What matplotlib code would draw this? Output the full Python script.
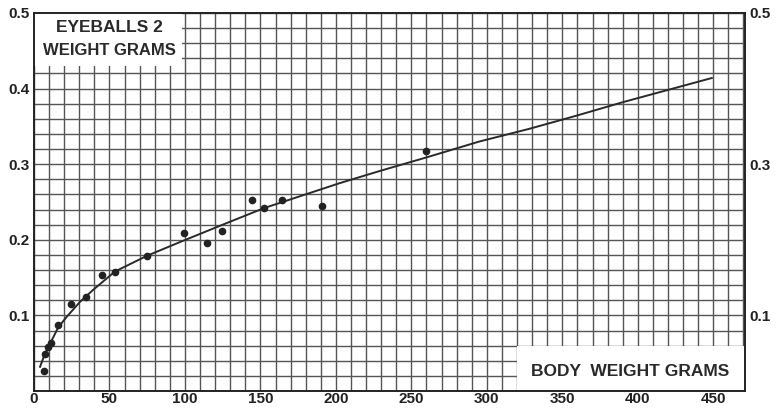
import matplotlib
matplotlib.use("Agg")
import matplotlib.pyplot as plt
from matplotlib.patches import Rectangle
import numpy as np

# Observed data points (body weight g, eyeball weight g)
body_weight = [6.8, 7.3, 9.5, 11, 16, 24.5, 34.4, 44.8, 53.6, 75, 99.3, 114.4,
               124.3, 144.2, 152.5, 164, 191, 260]
eye_weight = [0.026, 0.049, 0.058, 0.064, 0.087, 0.115, 0.124, 0.154, 0.158,
              0.179, 0.209, 0.196, 0.211, 0.252, 0.242, 0.252, 0.245, 0.317]

# Fitted curve
curve_x = [4, 7, 10, 16, 21.6, 30.5, 39.3, 53.6, 75, 96.7, 125, 152.5,
           202.6, 229, 260, 295, 328.5, 359, 390, 449]
curve_y = [0.032, 0.048, 0.060, 0.084, 0.098, 0.118, 0.134, 0.158, 0.179,
           0.197, 0.220, 0.242, 0.275, 0.291, 0.309, 0.330, 0.347, 0.364,
           0.382, 0.414]

x_ticks = [0, 50, 100, 150, 200, 250, 300, 350, 400, 450]
y_ticks_left = [0.1, 0.2, 0.3, 0.4, 0.5]
y_ticks_right = [0.1, 0.3, 0.5]

plt.rcParams['font.family'] = ['Liberation Sans', 'DejaVu Sans']

fig = plt.figure(figsize=(7.76, 4.09), dpi=100)
ax = fig.add_axes([34/776, 18/409, (745-34)/776, (391-13)/409])
ax.set_xlim(0, 471)
ax.set_ylim(0, 0.5)

gc = '#555555'
ax.set_xticks(x_ticks)
ax.set_xticks(np.arange(0, 471, 10), minor=True)
ax.set_yticks(y_ticks_left)
ax.set_yticks(np.arange(0, 0.501, 0.02), minor=True)
ax.grid(True, which='both', color=gc, linewidth=1.0)
ax.set_axisbelow(True)
ax.tick_params(which='both', length=0)
ax.tick_params(axis='x', pad=0.5, labelsize=11, labelcolor='#222')
ax.tick_params(axis='y', pad=3, labelsize=11, labelcolor='#222')
ax.set_yticklabels([f"{v:.1f}" for v in y_ticks_left])
for lab in ax.get_xticklabels() + ax.get_yticklabels():
    lab.set_fontweight('bold')
for s in ax.spines.values():
    s.set_color('#222')
    s.set_linewidth(1.4)

sec = ax.secondary_yaxis('right')
sec.set_yticks(y_ticks_right)
sec.set_yticklabels([f"{v:.1f}" for v in y_ticks_right], fontweight='bold')
sec.tick_params(length=0, pad=3, labelsize=11, labelcolor='#222')
sec.spines['right'].set_visible(False)

# label boxes
ax.add_patch(Rectangle((0, 0.43), 98, 0.07, facecolor='white', edgecolor='none', zorder=1.5))
ax.add_patch(Rectangle((320, 0.0), 151, 0.06, facecolor='white', edgecolor='none', zorder=1.5))
ax.text(50, 0.481, "EYEBALLS 2", ha='center', va='center', fontsize=12.5,
        fontweight='bold', color='#2a2a2a', zorder=3)
ax.text(50, 0.451, "WEIGHT GRAMS", ha='center', va='center', fontsize=12,
        fontweight='bold', color='#2a2a2a', zorder=3)
ax.text(395, 0.026, "BODY  WEIGHT GRAMS", ha='center', va='center', fontsize=12.5,
        fontweight='bold', color='#2a2a2a', zorder=3)

ax.plot(curve_x, curve_y, color='#2a2a2a', linewidth=1.4, zorder=4)
ax.plot(body_weight, eye_weight, 'o', color='#222', markersize=4.5, zorder=5)

fig.savefig('out.png', dpi=100, facecolor='white')
